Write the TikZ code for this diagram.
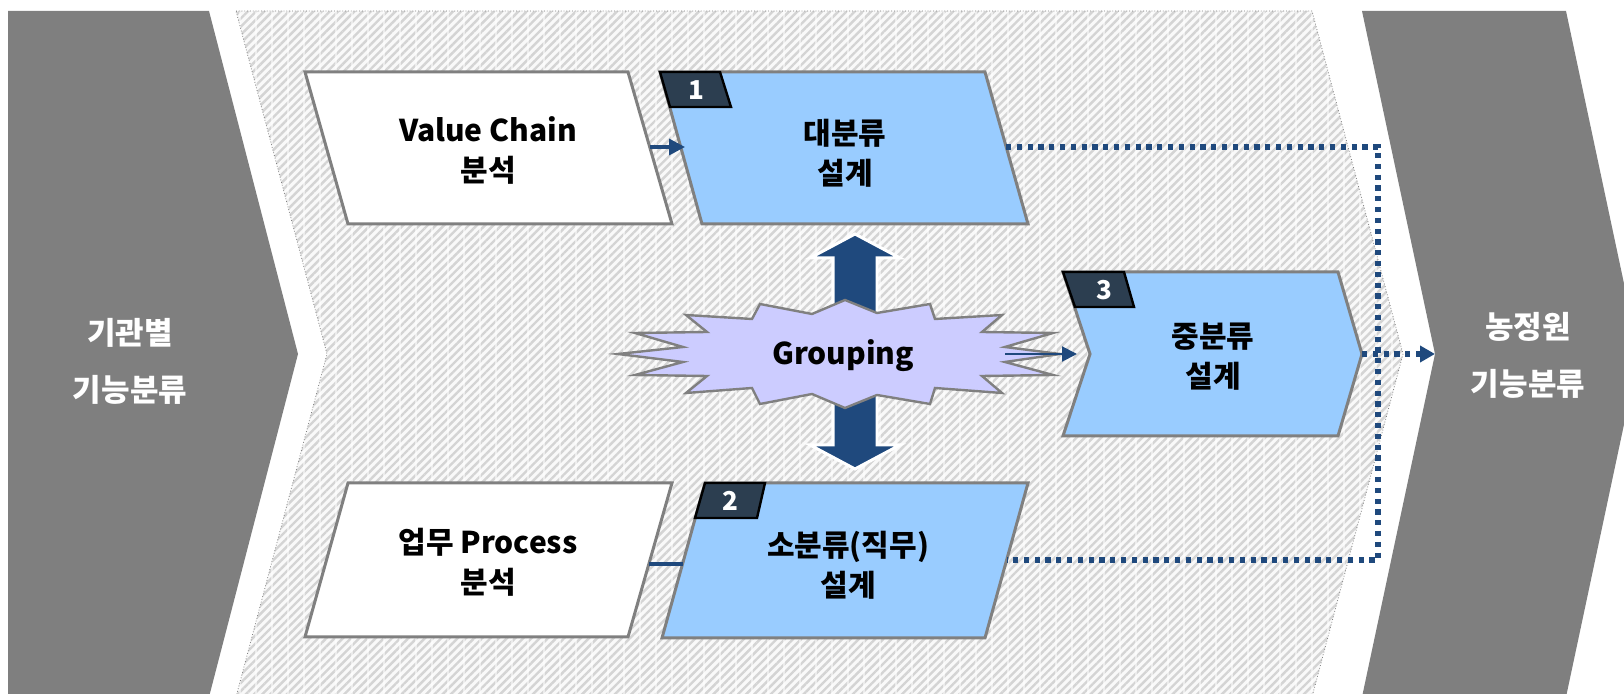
\documentclass[tikz,border=0pt]{standalone}
\usepackage{fontspec}
\setmainfont{Noto Sans CJK KR}
\usetikzlibrary{arrows.meta,patterns.meta}

\definecolor{chevgray}{RGB}{127,127,127}
\definecolor{edgegray}{RGB}{128,128,128}
\definecolor{stepblue}{RGB}{153,204,255}
\definecolor{linkblue}{RGB}{31,73,125}
\definecolor{tagnavy}{RGB}{44,62,80}
\definecolor{burstlilac}{RGB}{204,204,255}
\definecolor{hatchgray}{RGB}{212,212,212}

\tikzset{
  chev/.style={fill=chevgray},
  chevtext/.style={text=white, align=center, font=\bfseries\fontsize{15.5}{28.5}\selectfont},
  inbox/.style={fill=white, draw=edgegray, line width=1.5pt},
  stepbox/.style={fill=stepblue, draw=edgegray, line width=1.5pt},
  tagbox/.style={fill=tagnavy, draw=black, line width=1.2pt},
  tagtext/.style={text=white, font=\bfseries\fontsize{13}{15}\selectfont},
  boxtext/.style={align=center, font=\bfseries\fontsize{15}{20}\selectfont},
  link/.style={draw=linkblue, line width=1.7pt},
  bus/.style={draw=linkblue, line width=2.6pt, dash pattern=on 2.6pt off 2.8pt},
}

\begin{document}
\begin{tikzpicture}[x=0.5pt, y=-0.5pt, line join=miter]
  \useasboundingbox (0,0) rectangle (1624,694);
  \clip (0,0) rectangle (1624,694);

  % side chevrons
  \fill[chev] (8,11) -- (209,11) -- (298,354) -- (209,697) -- (8,697) -- cycle;
  \fill[chev] (1362,11) -- (1566,11) -- (1639,354) -- (1566,697) -- (1362,697) -- (1435,354) -- cycle;
  \node[chevtext] (src) at (130,361) {기관별\\기능분류};
  \node[chevtext] (goal) at (1528,355) {농정원\\기능분류};

  % hatched middle band
  \begin{scope}
    \clip (236,11) -- (1312,11) -- (1403,354) -- (1312,697) -- (236,697) -- (327,354) -- cycle;
    \path[fill=gray!5, postaction={pattern={Lines[angle=45,distance=2.9pt,line width=1.2pt]}, pattern color=hatchgray}]
      (230,0) rectangle (1410,700);
    \draw[white, opacity=0.55, line width=0.8pt, step=16] (224,0) grid (1416,704);
  \end{scope}
  \draw[gray, line width=0.4pt, densely dotted]
    (236,11) -- (1312,11) -- (1403,354) -- (1312,697) -- (236,697) -- (327,354) -- cycle;

  % input boxes
  \draw[inbox] (305,72) -- (628,72) -- (672,224) -- (348,224) -- cycle;
  \node[boxtext] (vc) at (488,150) {Value Chain\\분석};
  \draw[inbox] (348,483) -- (672,483) -- (628,637) -- (305,637) -- cycle;
  \node[boxtext] (wp) at (488,562) {업무 Process\\분석};

  % design steps
  \draw[stepbox] (660,72) -- (985,72) -- (1028,224) -- (702,224) -- cycle;
  \node[boxtext] (big) at (845,153) {대분류\\설계};
  \draw[stepbox] (705,483) -- (1028,483) -- (985,638) -- (662,638) -- cycle;
  \node[boxtext] (small) at (848,565) {소분류(직무)\\설계};
  \draw[stepbox] (1063,272) -- (1338,272) -- (1362,354) -- (1338,436) -- (1063,436) -- (1090,354) -- cycle;
  \node[boxtext] (mid) at (1213,357) {중분류\\설계};

  % step numbers
  \draw[tagbox] (660,72) -- (720,72) -- (731,107) -- (670,107) -- cycle;
  \node[tagtext] (tag1) at (696,90) {1};
  \draw[tagbox] (705,483) -- (765,483) -- (757,518) -- (695,518) -- cycle;
  \node[tagtext] (tag2) at (730,501) {2};
  \draw[tagbox] (1063,272) -- (1124,272) -- (1134,307) -- (1075,307) -- cycle;
  \node[tagtext] (tag3) at (1104,290) {3};

  % double arrow behind the burst
  \draw[fill=linkblue, draw=white, line width=1.5pt]
    (855,234) -- (900,258) -- (877,258) -- (877,445) -- (900,445) -- (855,469)
    -- (810,445) -- (833,445) -- (833,258) -- (810,258) -- cycle;

  % grouping burst
  \draw[fill=burstlilac, draw=edgegray, line width=1.2pt]
    (618,354) -- (683,347) -- (635,333) -- (707,332) -- (686,315) -- (752,319)
    -- (760,304) -- (812,314) -- (845,300) -- (877,313) -- (930,304) -- (935,319)
    -- (1002,315) -- (982,332) -- (1053,333) -- (1005,347) -- (1060,354)
    -- (1005,362) -- (1053,375) -- (982,376) -- (1002,393) -- (935,388)
    -- (930,404) -- (877,395) -- (845,408) -- (812,394) -- (760,404) -- (752,388)
    -- (686,393) -- (707,376) -- (635,375) -- (683,362) -- cycle;
  \node[boxtext] (grp) at (843,356) {Grouping};

  % connector ends
  \coordinate (vc-e) at (650,147);
  \coordinate (big-w) at (685,147);
  \coordinate (big-e) at (1006,147);
  \coordinate (wp-e) at (649,564);
  \coordinate (small-w) at (683,564);
  \coordinate (small-e) at (1007,560);
  \coordinate (grp-e) at (1005,354);
  \coordinate (mid-w) at (1077,354);
  \coordinate (mid-e) at (1362,354);
  \coordinate (goal-w) at (1435,354);
  \coordinate (bus-n) at (1378,147);
  \coordinate (bus-s) at (1378,560);

  % connectors
  \draw[link, -{Triangle[length=8pt,width=8pt]}] (vc-e) -- (big-w);
  \draw[link] (wp-e) -- (small-w);
  \draw[linkblue, line width=1pt, -{Triangle[length=7.5pt,width=7.5pt]}] (grp-e) -- (mid-w);
  \draw[bus] (big-e) -- (bus-n) -- (bus-s) -- (small-e);
  \draw[bus, -{Triangle[length=7.5pt,width=8pt]}] (mid-e) -- (goal-w);
\end{tikzpicture}
\end{document}
